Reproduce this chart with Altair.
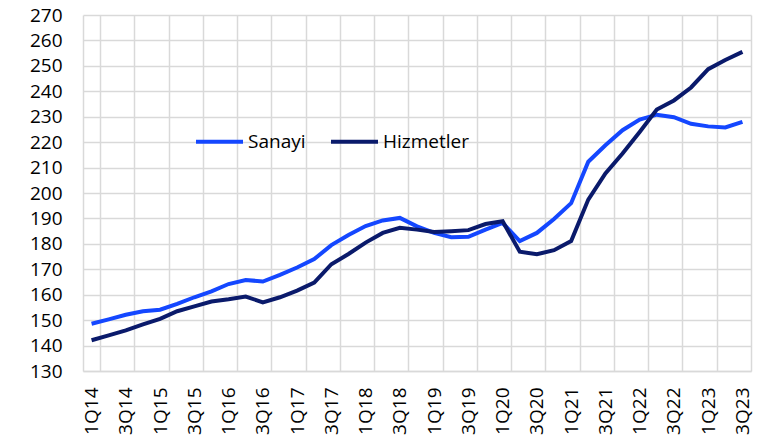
import altair as alt
import pandas as pd

quarters = [f"{q}Q{y}" for y in range(14, 24) for q in range(1, 5)][:39]

sanayi = [148.6, 150.3, 152.1, 153.5, 154.1, 156.4, 159.0, 161.3, 164.2, 165.8,
          165.2, 167.8, 170.7, 174.0, 179.5, 183.5, 187.0, 189.2, 190.2, 186.9,
          184.3, 182.6, 182.8, 185.6, 188.2, 181.1, 184.3, 189.8, 196.0, 212.3,
          218.8, 224.7, 228.9, 230.8, 229.8, 227.2, 226.2, 225.8, 228.0]

hizmetler = [142.1, 144.0, 146.0, 148.3, 150.5, 153.5, 155.4, 157.3, 158.2, 159.3,
             157.0, 159.0, 161.6, 164.8, 172.0, 176.0, 180.5, 184.3, 186.3, 185.6,
             184.7, 185.0, 185.4, 187.8, 188.9, 176.9, 175.9, 177.5, 181.1, 197.4,
             207.7, 215.5, 224.0, 232.8, 236.4, 241.5, 248.7, 252.3, 255.5]

series_names = ["Sanayi", "Hizmetler"]
colors = ["#1447ff", "#0a1a6b"]

rows = []
for name, vals in zip(series_names, [sanayi, hizmetler]):
    for q, v in zip(quarters, vals):
        rows.append({"quarter": q, "value": v, "series": name})
df = pd.DataFrame(rows)

label_quarters = quarters[::2]
FONT = "Open Sans"

chart = alt.Chart(df).mark_line(strokeWidth=4).encode(
    x=alt.X("quarter:O", sort=quarters,
            scale=alt.Scale(type="band", paddingInner=0, paddingOuter=0),
            axis=alt.Axis(values=label_quarters, title=None, labelAngle=270,
                          tickBand="extent", tickExtra=False, grid=True, ticks=False,
                          gridColor="#d9d9d9", gridWidth=1.5,
                          domainColor="#d9d9d9", domainWidth=1.5,
                          labelFont=FONT, labelFontSize=19, labelColor="#000000",
                          labelPadding=16, labelBaseline="middle")),
    y=alt.Y("value:Q",
            scale=alt.Scale(domain=[130, 270], nice=False, zero=False),
            axis=alt.Axis(values=list(range(130, 271, 10)), title=None,
                          grid=True, ticks=False, domain=False,
                          gridColor="#d9d9d9", gridWidth=1.5,
                          labelFont=FONT, labelFontSize=19, labelColor="#000000",
                          labelPadding=21)),
    color=alt.Color("series:N", sort=series_names,
                    scale=alt.Scale(domain=series_names, range=colors),
                    legend=alt.Legend(orient="none", legendX=111, legendY=101,
                                      direction="horizontal", title=None,
                                      symbolType="stroke", symbolSize=2209,
                                      symbolStrokeWidth=4, labelFont=FONT,
                                      labelFontSize=19, labelColor="#000000",
                                      labelOffset=3, columnPadding=17)),
).properties(
    width=668, height=356,
    autosize=alt.AutoSizeParams(type="none"),
    padding={"left": 75, "top": 7, "right": 10, "bottom": 64},
).configure_view(stroke=None)

chart.save("out.html", embed_options={"renderer": "svg", "actions": False})
